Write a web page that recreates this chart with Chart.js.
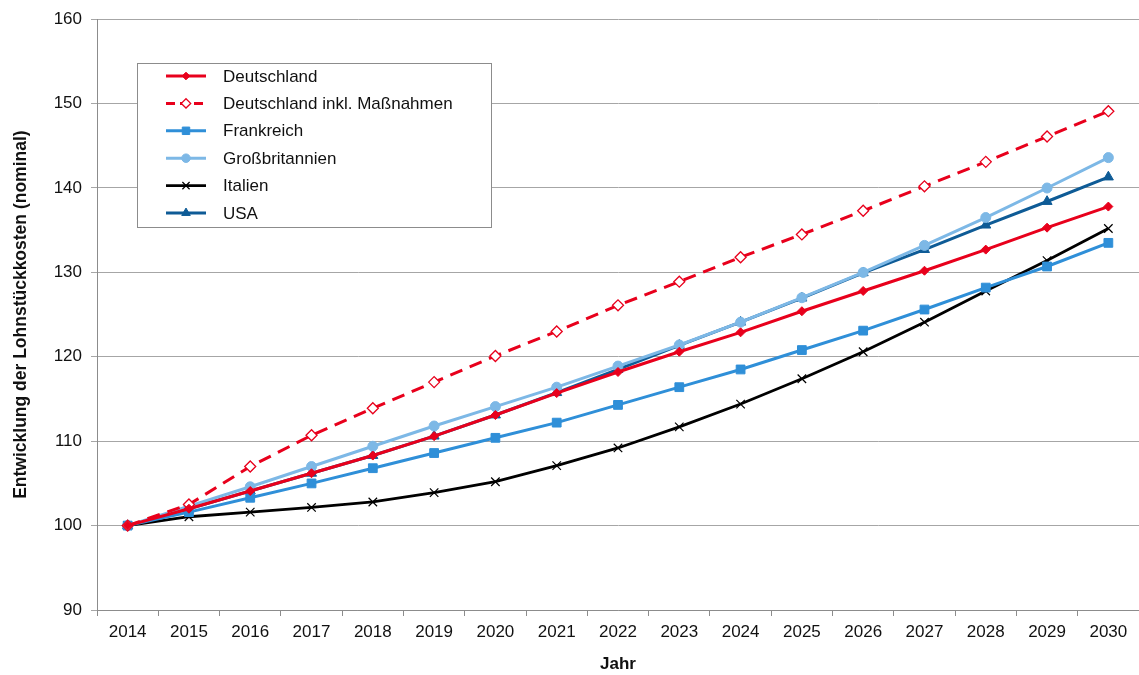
<!DOCTYPE html>
<html lang="de">
<head>
<meta charset="utf-8">
<title>Lohnstückkosten</title>
<script src="https://cdn.jsdelivr.net/npm/chart.js@4/dist/chart.umd.min.js"></script>
<style>
    html, body { margin: 0; padding: 0; background: #fff; overflow: hidden; }
    canvas { display: block; }
</style>
</head>
<body>
<canvas id="chart" width="1139" height="675"></canvas>
<script>
const jahre = ['2014', '2015', '2016', '2017', '2018', '2019', '2020', '2021', '2022',
    '2023', '2024', '2025', '2026', '2027', '2028', '2029', '2030'];

const deutschland = [100, 102.0, 104.1, 106.2, 108.3, 110.6, 113.1, 115.7, 118.2,
    120.6, 122.9, 125.4, 127.8, 130.2, 132.7, 135.3, 137.8];
const deutschlandMassnahmen = [100, 102.5, 107.0, 110.7, 113.9, 117.0, 120.1, 123.0, 126.1,
    128.9, 131.8, 134.5, 137.3, 140.2, 143.1, 146.1, 149.1];
const frankreich = [100, 101.6, 103.3, 105.0, 106.8, 108.6, 110.4, 112.2, 114.3,
    116.4, 118.5, 120.8, 123.1, 125.6, 128.2, 130.7, 133.5];
const grossbritannien = [100, 102.3, 104.6, 107.0, 109.4, 111.8, 114.1, 116.4, 118.9,
    121.4, 124.1, 127.0, 130.0, 133.2, 136.5, 140.0, 143.6];
const italien = [100, 101.05, 101.6, 102.15, 102.8, 103.9, 105.2, 107.1, 109.2,
    111.7, 114.4, 117.4, 120.6, 124.1, 127.8, 131.4, 135.2];
const usa = [100, 102.0, 104.1, 106.2, 108.3, 110.6, 113.1, 115.75, 118.5,
    121.35, 124.1, 126.95, 129.95, 132.7, 135.6, 138.4, 141.3];

const yTicks = [90, 100, 110, 120, 130, 140, 150, 160];

const ROT = '#e8001c';
const BLAU = '#2f8fd8';
const HELLBLAU = '#7db8e6';
const DUNKELBLAU = '#0e5b96';
const SCHRIFT = '"Liberation Sans", Arial, sans-serif';

function serie(label, data, farbe, punkt, extra) {
    return Object.assign({
        label: label,
        data: data,
        borderColor: farbe,
        backgroundColor: farbe,
        borderWidth: 3,
        pointStyle: punkt,
        pointRadius: 4,
        pointBackgroundColor: farbe,
        pointBorderColor: farbe,
        pointBorderWidth: 1,
        tension: 0,
        fill: false
    }, extra || {});
}

const datasets = [
    serie('Deutschland', deutschland, ROT, 'rectRot', { pointRadius: 4.5 }),
    serie('Deutschland inkl. Maßnahmen', deutschlandMassnahmen, ROT, 'rectRot', {
        borderDash: [13, 8],
        pointBackgroundColor: '#fff',
        pointBorderWidth: 1.3,
        pointRadius: 5.5
    }),
    serie('Frankreich', frankreich, BLAU, 'rect', { pointRadius: 6.2 }),
    serie('Großbritannien', grossbritannien, HELLBLAU, 'circle', { pointRadius: 5 }),
    serie('Italien', italien, '#000', 'crossRot', { pointRadius: 6, pointBorderWidth: 1.2, borderWidth: 2.8 }),
    serie('USA', usa, DUNKELBLAU, 'triangle', { pointRadius: 5.8 })
];

// Legende als Kasten innerhalb der Zeichenfläche
const legendeImDiagramm = {
    id: 'legendeImDiagramm',
    afterDraw(chart) {
        const ctx = chart.ctx;
        const x0 = 137, y0 = 63, w = 354, h = 164;
        ctx.save();
        ctx.fillStyle = '#fff';
        ctx.fillRect(x0, y0, w, h);
        ctx.strokeStyle = '#8c8c8c';
        ctx.lineWidth = 1;
        ctx.strokeRect(x0 + 0.5, y0 + 0.5, w, h);

        chart.data.datasets.forEach((ds, i) => {
            const y = 76 + i * 27.4;
            ctx.strokeStyle = ds.borderColor;
            ctx.lineWidth = ds.borderWidth;
            ctx.setLineDash(ds.borderDash ? [9, 5] : []);
            ctx.beginPath();
            ctx.moveTo(166, y);
            ctx.lineTo(206, y);
            ctx.stroke();
            ctx.setLineDash([]);

            ctx.fillStyle = ds.pointBackgroundColor;
            ctx.strokeStyle = ds.pointBorderColor;
            ctx.lineWidth = ds.pointBorderWidth;
            Chart.helpers.drawPoint(ctx, {
                pointStyle: ds.pointStyle,
                radius: ds.pointRadius * 0.85,
                borderWidth: ds.pointBorderWidth,
                rotation: 0
            }, 186, y);

            ctx.fillStyle = '#111';
            ctx.font = '17px ' + SCHRIFT;
            ctx.textAlign = 'left';
            ctx.textBaseline = 'middle';
            ctx.fillText(ds.label, 223, y + 1);
        });
        ctx.restore();
    }
};

new Chart(document.getElementById('chart'), {
    type: 'line',
    data: { labels: jahre, datasets: datasets },
    options: {
        responsive: false,
        animation: false,
        layout: {
            autoPadding: false,
            padding: { top: 18, right: 0, left: 0, bottom: 0 }
        },
        plugins: {
            legend: { display: false },
            tooltip: { enabled: false }
        },
        scales: {
            x: {
                offset: true,
                afterFit: s => {
                    s.height = 65;
                    s.paddingLeft = 0;
                    s.paddingRight = 0;
                },
                grid: {
                    offset: true,
                    drawOnChartArea: false,
                    drawTicks: true,
                    tickLength: 6,
                    color: '#8c8c8c'
                },
                border: { color: '#8c8c8c', width: 1 },
                ticks: {
                    color: '#111',
                    font: { family: SCHRIFT, size: 17 },
                    padding: 6,
                    maxRotation: 0,
                    autoSkip: false
                },
                title: {
                    display: true,
                    text: 'Jahr',
                    color: '#111',
                    font: { family: SCHRIFT, size: 17, weight: 'bold' },
                    padding: { top: 6, bottom: 0 }
                }
            },
            y: {
                min: 90,
                max: 160,
                afterFit: s => { s.width = 97; },
                afterBuildTicks: s => { s.ticks = yTicks.map(v => ({ value: v })); },
                grid: {
                    color: '#a6a6a6',
                    lineWidth: 1,
                    tickLength: 6
                },
                border: { color: '#8c8c8c', width: 1 },
                ticks: {
                    color: '#111',
                    font: { family: SCHRIFT, size: 17 },
                    padding: 9
                },
                title: {
                    display: true,
                    text: 'Entwicklung der Lohnstückkosten (nominal)',
                    color: '#111',
                    font: { family: SCHRIFT, size: 17.5, weight: 'bold' },
                    padding: { top: 11, bottom: 0 }
                }
            }
        }
    },
    plugins: [legendeImDiagramm]
});
</script>
</body>
</html>
